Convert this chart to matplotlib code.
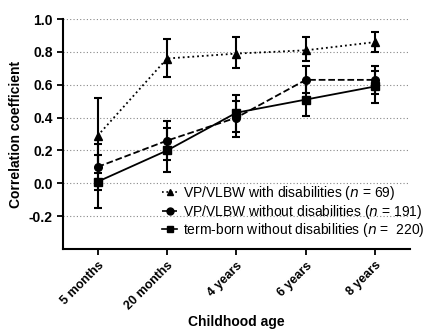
import matplotlib.pyplot as plt
from matplotlib.lines import Line2D

plt.rcParams['font.family'] = ['Liberation Sans', 'DejaVu Sans']

ages = ['5 months', '20 months', '4 years', '6 years', '8 years']

# VP/VLBW with disabilities
with_r = [0.29, 0.76, 0.79, 0.81, 0.86]
with_lo = [0.06, 0.65, 0.70, 0.745, 0.80]
with_hi = [0.52, 0.88, 0.89, 0.89, 0.92]

# VP/VLBW without disabilities
without_r = [0.10, 0.26, 0.40, 0.63, 0.63]
without_lo = [-0.04, 0.14, 0.28, 0.55, 0.545]
without_hi = [0.24, 0.38, 0.50, 0.715, 0.715]

# term-born without disabilities
term_r = [0.01, 0.20, 0.43, 0.51, 0.59]
term_lo = [-0.15, 0.07, 0.31, 0.41, 0.49]
term_hi = [0.17, 0.335, 0.54, 0.62, 0.685]

labels = ['VP/VLBW with disabilities ($\\it{n}$ = 69)',
          'VP/VLBW without disabilities ($\\it{n}$ = 191)',
          'term-born without disabilities ($\\it{n}$ =  220)']

fig = plt.figure(figsize=(4.37, 3.29), dpi=100)
ax = fig.add_axes([0.144, 0.243, 0.794, 0.699])

x = list(range(len(ages)))

def draw(r, lo, hi, marker, ls):
    yerr = [[a - b for a, b in zip(r, lo)], [b - a for a, b in zip(r, hi)]]
    ax.errorbar(x, r, yerr=yerr, fmt=marker, linestyle=ls, color='black',
                markersize=5.5, linewidth=1.3, elinewidth=1.5, capsize=3,
                capthick=1.5)

draw(with_r, with_lo, with_hi, '^', ':')
draw(without_r, without_lo, without_hi, 'o', '--')
draw(term_r, term_lo, term_hi, 's', '-')

ax.set_xlim(-0.5, 4.5)
ax.set_ylim(-0.4, 1.0)
ax.set_yticks([-0.2, 0.0, 0.2, 0.4, 0.6, 0.8, 1.0])
ax.set_yticklabels(['-0.2', '0.0', '0.2', '0.4', '0.6', '0.8', '1.0'],
                   fontsize=10, fontweight='bold')
ax.set_xticks(x)
ax.set_xticklabels(ages, rotation=45, ha='right', rotation_mode='anchor',
                   fontsize=9, fontweight='bold')
ax.yaxis.grid(True, linestyle=(0, (1, 2)), color='#888888', linewidth=0.8)
ax.set_axisbelow(True)
ax.spines['top'].set_visible(False)
ax.spines['right'].set_visible(False)
ax.spines['left'].set_linewidth(1.5)
ax.spines['bottom'].set_linewidth(1.5)
ax.tick_params(width=1.3, length=4)

ax.set_ylabel('Correlation coefficient', fontsize=10, fontweight='bold')
ax.set_xlabel('Childhood age', fontsize=10, fontweight='bold', labelpad=2)

handles = [Line2D([], [], color='black', marker=m, linestyle=ls, markersize=5,
                  linewidth=1.2)
           for m, ls in [('^', ':'), ('o', '--'), ('s', '-')]]
ax.legend(handles, labels, loc='lower right', bbox_to_anchor=(1.07, 0.0),
          frameon=False, fontsize=10, handlelength=1.1, handletextpad=0.4,
          labelspacing=0.05, borderpad=0.2)

fig.savefig('out.png', dpi=100)
